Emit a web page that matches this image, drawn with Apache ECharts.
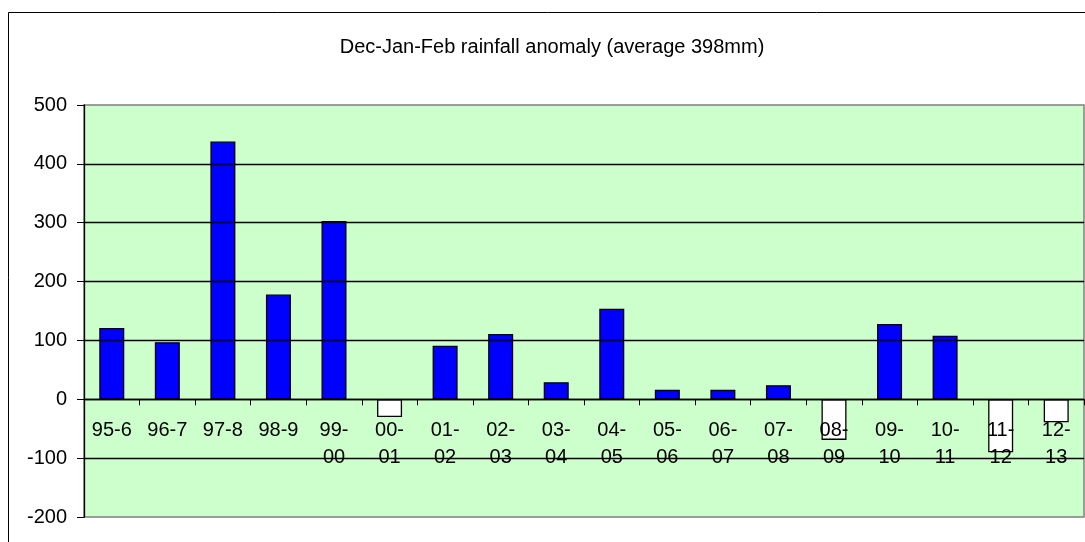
<!DOCTYPE html>
<html>
<head>
<meta charset="utf-8">
<script src="https://cdn.jsdelivr.net/npm/echarts@6/dist/echarts.min.js"></script>
<style>html,body{margin:0;padding:0;background:#fff}#c{width:1085px;height:542px}</style>
</head>
<body>
<div id="c"></div>
<script>
const titleText = 'Dec-Jan-Feb rainfall anomaly (average 398mm)';
const categories = ['95-6','96-7','97-8','98-9','99-00','00-01','01-02','02-03','03-04','04-05','05-06','06-07','07-08','08-09','09-10','10-11','11-12','12-13'];
const anomaly = [121, 97, 438, 178, 303, -30, 91, 111, 29, 154, 16, 16, 24, -69, 128, 108, -90, -39];
const yTicks = { min: -200, max: 500, interval: 100 };

const gridTop = 105, gridBottom = 25, H = 542;
const gridHeight = H - gridTop - gridBottom;
const zeroOffset = -(0 - yTicks.min) / (yTicks.max - yTicks.min) * gridHeight;

const chart = echarts.init(document.getElementById('c'), null, {renderer: 'canvas'});
const font = 'Liberation Sans, Arial, sans-serif';
chart.setOption({
  animation: false,
  backgroundColor: '#ffffff',
  graphic: [{
    type: 'rect', z: 100, silent: true,
    shape: {x: 8.5, y: 12.5, width: 1200, height: 700},
    style: {fill: 'none', stroke: '#000', lineWidth: 1}
  }],
  title: {
    text: titleText, left: 547, top: 32, textAlign: 'center',
    textStyle: {fontFamily: font, fontSize: 20, fontWeight: 'normal', color: '#000'}
  },
  grid: {
    left: 84, top: gridTop, right: 1, bottom: gridBottom,
    outerBoundsMode: 'none', containLabel: false,
    show: true, backgroundColor: '#CCFFCC', borderColor: '#808080', borderWidth: 1.5
  },
  xAxis: {
    type: 'category', data: categories, z: 5, position: 'bottom', offset: zeroOffset,
    axisLine: {onZero: false, lineStyle: {color: '#000', width: 1.3}},
    axisTick: {show: true, inside: false, length: 6, alignWithLabel: false, lineStyle: {color: '#000'}},
    axisLabel: {
      interval: 0, margin: 18, fontFamily: font, fontSize: 20, color: '#000', lineHeight: 27,
      formatter: v => v.length > 4 ? v.replace('-', '-\n') : v
    },
    splitLine: {show: false}
  },
  yAxis: {
    type: 'value', min: yTicks.min, max: yTicks.max, interval: yTicks.interval, z: 4,
    axisLine: {show: true, lineStyle: {color: '#000', width: 1.3}},
    axisTick: {show: true, length: 7, lineStyle: {color: '#000'}},
    axisLabel: {margin: 17, fontFamily: font, fontSize: 20, color: '#000'},
    splitLine: {show: true, showMinLine: false, showMaxLine: false, lineStyle: {color: '#000', width: 1.3}}
  },
  series: [{
    type: 'bar', data: anomaly, barWidth: 25,
    itemStyle: {
      color: p => p.value >= 0 ? '#0000FF' : '#FFFFFF',
      borderColor: '#000', borderWidth: 1.3
    }
  }]
});
</script>
</body>
</html>
